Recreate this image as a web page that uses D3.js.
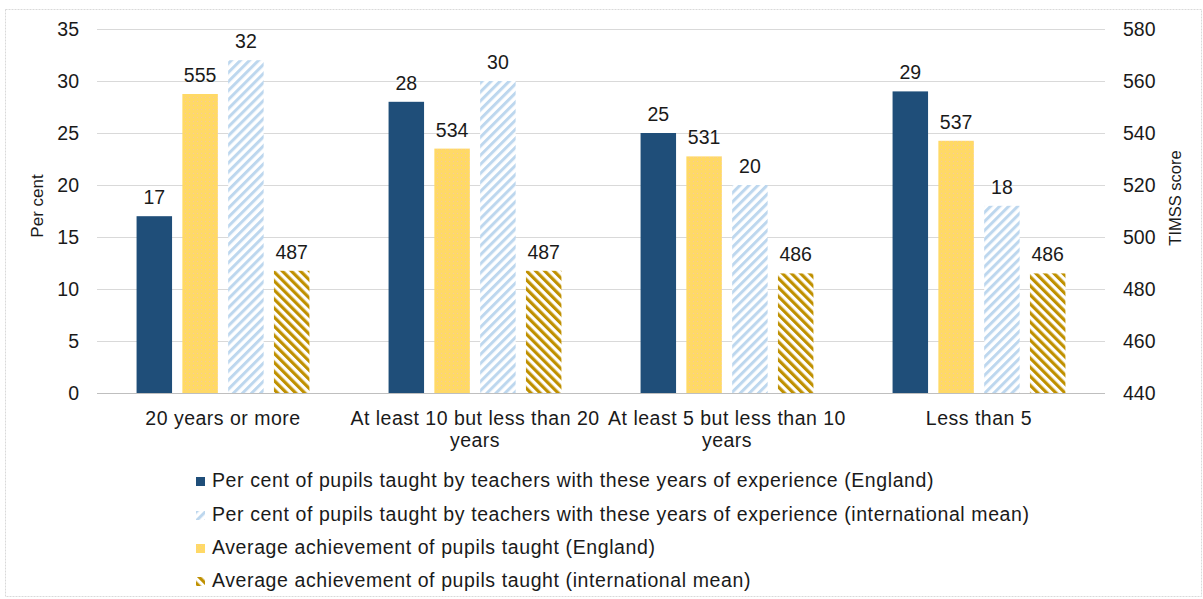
<!DOCTYPE html>
<html>
<head>
<meta charset="utf-8">
<script src="https://cdn.jsdelivr.net/npm/d3@7"></script>
<style>
  html, body { margin: 0; padding: 0; background: #fff; }
  svg { display: block; font-family: "Liberation Sans", Arial, sans-serif; }
</style>
</head>
<body>
<svg id="chart" width="1203" height="599"></svg>
<script>
// Years of teaching experience (category axis)
const categories = [
  "20 years or more",
  "At least 10 but less than 20 years",
  "At least 5 but less than 10 years",
  "Less than 5"
];

// Per cent of pupils (left axis)
const pctEngland = [17, 28, 25, 29];
const pctInternational = [32, 30, 20, 18];

// TIMSS scores (right axis)
const scoreEngland = [555, 534, 531, 537];
const scoreInternational = [487, 487, 486, 486];

const leftTicks = [0, 5, 10, 15, 20, 25, 30, 35];
const rightTicks = [440, 460, 480, 500, 520, 540, 560, 580];

const namePctEngland = "Per cent of pupils taught by teachers with these years of experience (England)";
const namePctInternational = "Per cent of pupils taught by teachers with these years of experience (international mean)";
const nameScoreEngland = "Average achievement of pupils taught (England)";
const nameScoreInternational = "Average achievement of pupils taught (international mean)";

const svg = d3.select("#chart");
const textColor = "#1a1a1a";

// fill patterns
const defs = svg.append("defs");
const hatchBlue = defs.append("pattern")
  .attr("id", "hatchBlue").attr("patternUnits", "userSpaceOnUse")
  .attr("width", 6.4).attr("height", 6.4)
  .attr("patternTransform", "rotate(45)");
hatchBlue.append("rect").attr("width", 6.4).attr("height", 6.4).attr("fill", "#fff");
hatchBlue.append("rect").attr("width", 3).attr("height", 6.4).attr("fill", "#bdd7ee");

const hatchGold = defs.append("pattern")
  .attr("id", "hatchGold").attr("patternUnits", "userSpaceOnUse")
  .attr("width", 6.4).attr("height", 6.4)
  .attr("patternTransform", "rotate(-45)");
hatchGold.append("rect").attr("width", 6.4).attr("height", 6.4).attr("fill", "#fff");
hatchGold.append("rect").attr("width", 3.2).attr("height", 6.4).attr("fill", "#bf9000");

const dotYellow = defs.append("pattern")
  .attr("id", "dotYellow").attr("patternUnits", "userSpaceOnUse")
  .attr("width", 4).attr("height", 4);
dotYellow.append("rect").attr("width", 4).attr("height", 4).attr("fill", "#ffd966");
dotYellow.append("rect").attr("x", 1).attr("y", 1).attr("width", 1).attr("height", 1).attr("fill", "#f5c8a0");

// outer frame
svg.append("rect")
  .attr("x", 5.5).attr("y", 9.5).attr("width", 1196).attr("height", 587)
  .attr("fill", "none").attr("stroke", "#d9d9d9").attr("stroke-dasharray", "2,1");

// scales
const plotLeft = 97, plotRight = 1105, plotTop = 29, plotBottom = 393;

const yLeft = d3.scaleLinear().domain([0, 35]).range([plotBottom, plotTop]);
const yRight = d3.scaleLinear().domain([440, 580]).range([plotBottom, plotTop]);

const x0 = d3.scaleBand().domain(categories).range([plotLeft, plotRight]).padding(0);
const x1 = d3.scaleBand().domain([0, 1, 2, 3]).range([0, x0.bandwidth()])
  .paddingInner(0.225).paddingOuter(0.864);

// gridlines
svg.append("g")
  .selectAll("line")
  .data(leftTicks.slice(1))
  .join("line")
  .attr("x1", plotLeft).attr("x2", plotRight)
  .attr("y1", d => Math.round(yLeft(d)) + 0.5)
  .attr("y2", d => Math.round(yLeft(d)) + 0.5)
  .attr("stroke", "#d9d9d9").attr("stroke-width", 1);

// left axis
const leftAxis = svg.append("g")
  .attr("transform", `translate(${plotLeft},0)`)
  .call(d3.axisLeft(yLeft).tickValues(leftTicks).tickSize(0).tickPadding(18));
leftAxis.select(".domain").remove();
leftAxis.selectAll("text")
  .attr("font-size", 19.5).attr("fill", textColor)
  .attr("font-family", "Liberation Sans, Arial, sans-serif");

// right axis
const rightAxis = svg.append("g")
  .attr("transform", `translate(${plotRight},0)`)
  .call(d3.axisRight(yRight).tickValues(rightTicks).tickSize(0).tickPadding(18));
rightAxis.select(".domain").remove();
rightAxis.selectAll("text")
  .attr("font-size", 19.5).attr("fill", textColor)
  .attr("font-family", "Liberation Sans, Arial, sans-serif");

// axis titles
svg.append("text")
  .attr("transform", `translate(43,206) rotate(-90)`)
  .attr("text-anchor", "middle")
  .attr("font-size", 17).attr("fill", textColor)
  .text("Per cent");
svg.append("text")
  .attr("transform", `translate(1181,198) rotate(-90)`)
  .attr("text-anchor", "middle")
  .attr("font-size", 16.5).attr("fill", textColor)
  .text("TIMSS score");

// bar series, in drawing order within each group
const series = [
  { name: namePctEngland, values: pctEngland, scale: yLeft, base: 0, fill: "#1f4e79" },
  { name: nameScoreEngland, values: scoreEngland, scale: yRight, base: 440, fill: "url(#dotYellow)" },
  { name: namePctInternational, values: pctInternational, scale: yLeft, base: 0, fill: "url(#hatchBlue)" },
  { name: nameScoreInternational, values: scoreInternational, scale: yRight, base: 440, fill: "url(#hatchGold)" }
];

const barsG = svg.append("g");
series.forEach((s, si) => {
  const g = barsG.append("g");
  g.selectAll("rect")
    .data(s.values)
    .join("rect")
    .attr("x", (d, i) => x0(categories[i]) + x1(si))
    .attr("width", x1.bandwidth())
    .attr("y", d => s.scale(d))
    .attr("height", d => s.scale(s.base) - s.scale(d))
    .attr("fill", s.fill);
  g.selectAll("text")
    .data(s.values)
    .join("text")
    .attr("x", (d, i) => x0(categories[i]) + x1(si) + x1.bandwidth() / 2)
    .attr("y", d => s.scale(d) - 12)
    .attr("text-anchor", "middle")
    .attr("font-size", 19.5).attr("fill", textColor)
    .text(d => d);
});

// baseline
svg.append("line")
  .attr("x1", plotLeft).attr("x2", plotRight)
  .attr("y1", plotBottom + 0.5).attr("y2", plotBottom + 0.5)
  .attr("stroke", "#bfbfbf");

// category labels with wrapping
const catG = svg.append("g");
categories.forEach(c => {
  const cx = x0(c) + x0.bandwidth() / 2;
  const t = catG.append("text")
    .attr("x", cx)
    .attr("y", 425)
    .attr("text-anchor", "middle")
    .attr("font-size", 19.5).attr("letter-spacing", 0.5).attr("fill", textColor);
  const words = c.split(" ");
  let line = [];
  let tspan = t.append("tspan").attr("x", cx).attr("dy", 0);
  words.forEach(w => {
    line.push(w);
    tspan.text(line.join(" "));
    if (tspan.node().getComputedTextLength() > 262 && line.length > 1) {
      line.pop();
      tspan.text(line.join(" "));
      line = [w];
      tspan = t.append("tspan").attr("x", cx).attr("dy", 22).text(w);
    }
  });
});

// legend
const legendOrder = [0, 2, 1, 3];
const legendY = [487, 521, 554, 587];
const legend = svg.append("g");
legendOrder.forEach((si, row) => {
  const s = series[si];
  legend.append("rect")
    .attr("x", 196).attr("y", legendY[row] - 10)
    .attr("width", 9).attr("height", 9)
    .attr("fill", s.fill);
  legend.append("text")
    .attr("x", 212).attr("y", legendY[row])
    .attr("font-size", 19.5).attr("letter-spacing", 0.6).attr("fill", textColor)
    .text(s.name);
});
</script>
</body>
</html>
